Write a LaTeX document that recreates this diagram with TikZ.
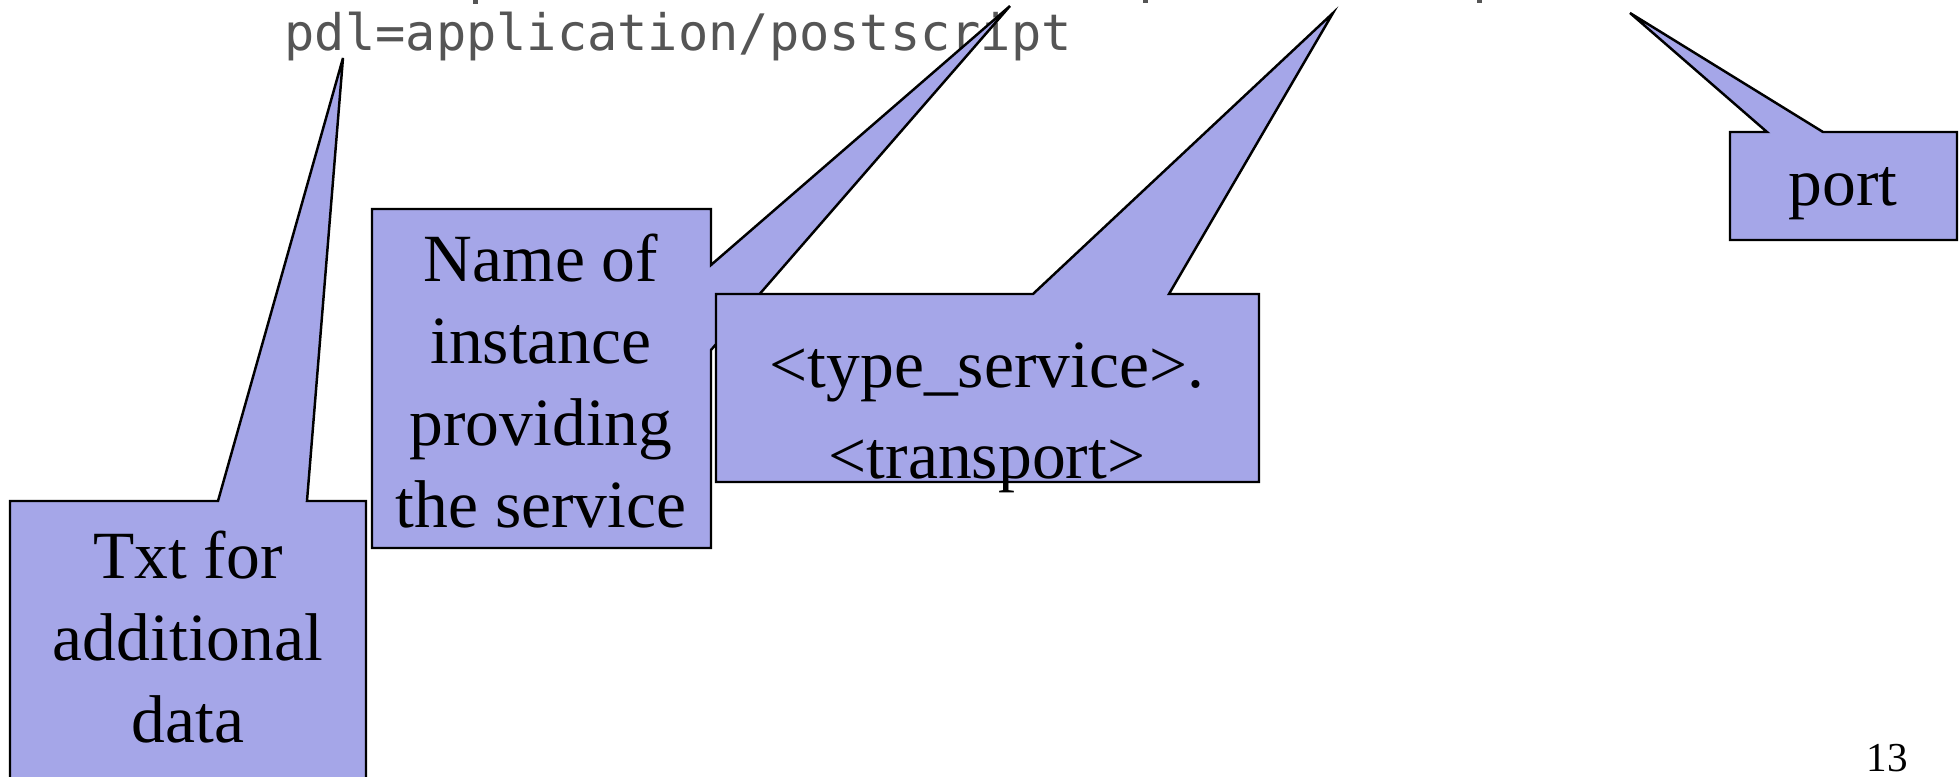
\documentclass[tikz,border=0pt]{standalone}
\usepackage{fontspec}
\setmainfont{Liberation Serif}
\newfontfamily\codefont{DejaVu Sans Mono}
\definecolor{calloutfill}{RGB}{165,166,232}
\definecolor{codegray}{RGB}{85,85,85}
\tikzset{
	callout/.style={fill=calloutfill, draw=black, line width=0.7pt, line join=miter},
	callouttext/.style={align=center, inner sep=0pt, font=\fontsize{19.2}{23.3}\selectfont},
}
\begin{document}
\begin{tikzpicture}[x=0.01cm, y=-0.01cm]
	\useasboundingbox (0,0) rectangle (1959,777);
	% record lines (the first one is cut off)
	\fill[codegray] (473,0) rectangle (478,4);
	\fill[codegray] (1143,0) rectangle (1148,3);
	\fill[codegray] (1477,0) rectangle (1482,3);
	\node[anchor=base west, inner sep=0pt, text=codegray, font=\codefont\fontsize{14.3}{17}\selectfont] (pdl) at (284,51) {pdl=application/postscript};
	% callouts
	\coordinate (tiptxt) at (343,58);
	\coordinate (tipname) at (1010,6);
	\coordinate (tiptype) at (1333,13);
	\coordinate (tipport) at (1630,13);
	\draw[callout] (10,790) -- (10,501) -- (218,501) -- (tiptxt) -- (307,501) -- (366,501) -- (366,790) -- cycle;
	\node[callouttext] (txt) at (188,637) {Txt for\\additional\\data};
	\draw[callout] (372,209) -- (711,209) -- (711,265) -- (tipname) -- (711,350) -- (711,548) -- (372,548) -- cycle;
	\node[callouttext] (name) at (541,381) {Name of\\instance\\providing\\the service};
	\draw[callout] (716,294) -- (1033,294) -- (tiptype) -- (1169,294) -- (1259,294) -- (1259,482) -- (716,482) -- cycle;
	\node[callouttext, font=\fontsize{19.2}{25.9}\selectfont] (type) at (987,418) {<type\_service>.\\<transport>};
	\draw[callout] (1730,132) -- (1767,132) -- (tipport) -- (1823,132) -- (1957,132) -- (1957,240) -- (1730,240) -- cycle;
	\node[callouttext] (port) at (1843,194) {port};
	% page number
	\node[inner sep=0pt, font=\fontsize{11.7}{14}\selectfont] (page) at (1887,758) {13};
\end{tikzpicture}
\end{document}
